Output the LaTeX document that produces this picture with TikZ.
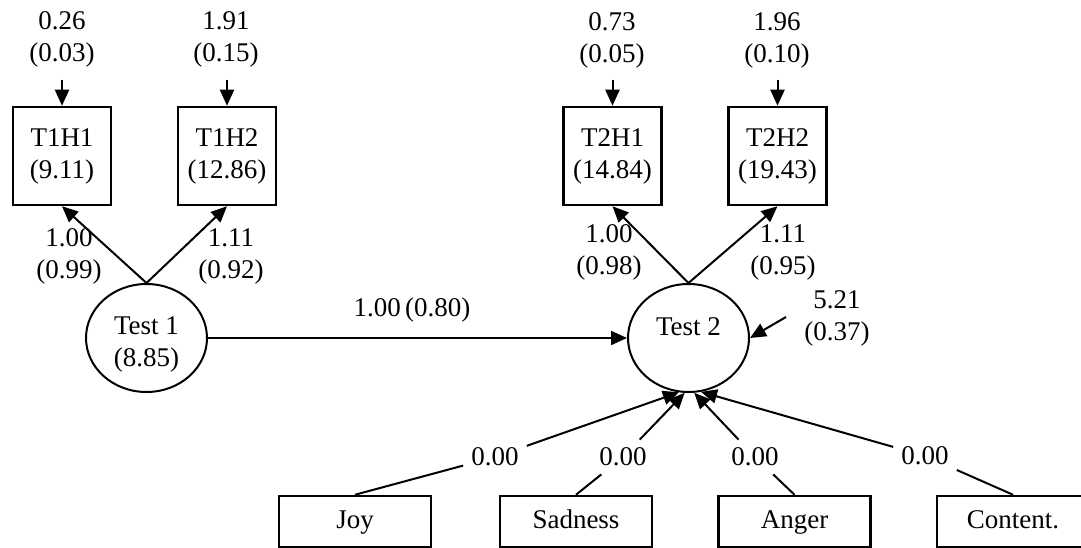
\documentclass[tikz,border=0pt]{standalone}
\usepackage{fontspec}
\setmainfont{Liberation Serif}
\usetikzlibrary{arrows.meta,shapes.geometric}
\begin{document}
\begin{tikzpicture}[x=1pt,y=-1pt,
  font=\fontsize{27}{32}\selectfont,
  every node/.style={align=center},
  ind/.style={draw,line width=2.5pt,minimum width=98pt,minimum height=98pt,inner sep=0pt},
  cov/.style={draw,line width=2.5pt,minimum width=152pt,minimum height=51pt,inner sep=0pt,
              text height=19pt,text depth=6pt},
  latent/.style={draw,ellipse,line width=2pt,minimum width=121pt,minimum height=108pt,inner sep=0pt},
  est/.style={inner sep=0pt},
  tag/.style={inner sep=8pt},
  arr/.style={line width=2pt,-{Triangle[length=16pt,width=14pt]}},
  seg/.style={line width=2pt},
]
\useasboundingbox (0,0) rectangle (1081,548);

% indicators
\node[ind] (t1h1) at (62,156)    {T1H1\\(9.11)};
\node[ind] (t1h2) at (227,156)   {T1H2\\(12.86)};
\node[ind] (t2h1) at (612.5,156) {T2H1\\(14.84)};
\node[ind] (t2h2) at (777.5,156) {T2H2\\(19.43)};

% error variances of the indicators
\node[est] (e11) at (62,39)  {0.26\\(0.03)};
\node[est] (e12) at (226,39) {1.91\\(0.15)};
\node[est] (e21) at (612,40) {0.73\\(0.05)};
\node[est] (e22) at (777,40) {1.96\\(0.10)};
\coordinate (a11) at (62,80);
\coordinate (a12) at (227,80);
\coordinate (a21) at (612.5,80);
\coordinate (a22) at (777.5,80);
\draw[arr] (a11) -- (t1h1);
\draw[arr] (a12) -- (t1h2);
\draw[arr] (a21) -- (t2h1);
\draw[arr] (a22) -- (t2h2);

% latent variables
\node[latent] (test1) at (146.5,338) {};
\node (test1txt) at (146.5,344.5) {Test 1\\(8.85)};
\node[latent] (test2) at (688.5,338) {};
\node (test2txt) at (688.5,327) {Test 2};

% loadings
\draw[arr] (test1.north) -- (t1h1.south);
\draw[arr] (test1.north) -- (t1h2.south);
\draw[arr] (test2.north) -- (t2h1.south);
\draw[arr] (test2.north) -- (t2h2.south);
\node[est] (l11) at (69,256)  {1.00\\(0.99)};
\node[est] (l12) at (231,256) {1.11\\(0.92)};
\node[est] (l21) at (609,252) {1.00\\(0.98)};
\node[est] (l22) at (783,252) {1.11\\(0.95)};

% structural path
\draw[arr] (test1) -- (test2);
\node[est] (b21) at (412,310) {1.00\,(0.80)};

% disturbance of Test 2
\node[est] (d2) at (837,318) {5.21\\(0.37)};
\coordinate (d2t) at (786,317);
\draw[arr] (d2t) -- (test2.east);

% covariates
\node[cov] (joy)     at (355,521.5)   {Joy};
\node[cov] (sadness) at (576,521.5)   {Sadness};
\node[cov] (anger)   at (794.5,521.5) {Anger};
\node[cov] (content) at (1013,521.5)  {Content.};

\node[tag] (wjoy)     at (495,457) {0.00};
\node[tag] (wsadness) at (623,457) {0.00};
\node[tag] (wanger)   at (755,457) {0.00};
\node[tag] (wcontent) at (925,456) {0.00};

\draw[seg] (joy.north) -- (wjoy);
\draw[arr] (wjoy) -- (test2.-100);
\draw[seg] (sadness.north) -- (wsadness);
\draw[arr] (wsadness) -- (test2.-94);
\draw[seg] (anger.north) -- (wanger);
\draw[arr] (wanger) -- (test2.-84);
\draw[seg] (content.north) -- (wcontent);
\draw[arr] (wcontent) -- (test2.-77);
\end{tikzpicture}
\end{document}
